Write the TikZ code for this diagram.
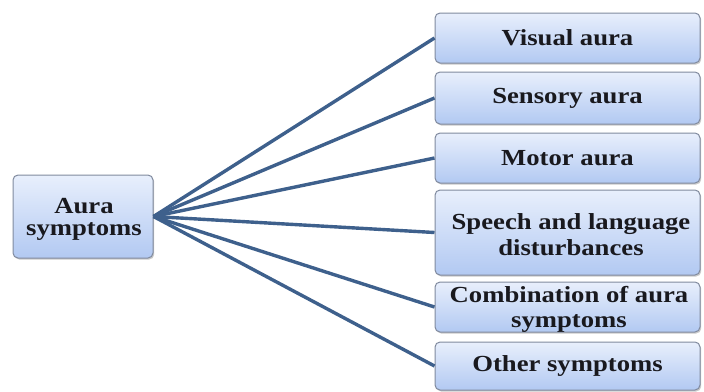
\documentclass[tikz,border=0pt]{standalone}
\usepackage{fontspec}
\setmainfont{Liberation Serif}
\newfontfamily\boxfont[FakeStretch=1.16]{Liberation Serif}
\usetikzlibrary{shadows}
\definecolor{linkc}{RGB}{62,96,140}
\definecolor{edgec}{RGB}{128,138,158}
\definecolor{topc}{RGB}{232,239,252}
\definecolor{botc}{RGB}{178,201,242}
\definecolor{txtc}{RGB}{25,25,30}
\tikzset{
  box/.style={draw=edgec, line width=1pt, rounded corners=5pt,
    top color=topc, bottom color=botc, inner sep=0pt,
    align=center, text=txtc,
    font=\boxfont\bfseries\fontsize{23}{23}\selectfont,
    drop shadow={shadow xshift=1.2pt, shadow yshift=-1.5pt, opacity=0.35, fill=black!60}},
  boxtext/.style={inner sep=0pt, align=center, text=txtc,
    font=\boxfont\bfseries\fontsize{23}{23}\selectfont},
  link/.style={draw=linkc, line width=3.4pt}
}
\begin{document}
\begin{tikzpicture}[x=1pt,y=-1pt]
\useasboundingbox (0,0) rectangle (704,391);
\node[box, minimum width=140pt, minimum height=83pt] (root) at (83,216.5) {};
\node[boxtext] (roott) at (84,219.5) {Aura\\[-1pt]symptoms};
\node[box, minimum width=265pt, minimum height=50pt] (b1) at (567.5,38) {Visual aura};
\node[box, minimum width=265pt, minimum height=52pt] (b2) at (567.5,98) {Sensory aura};
\node[box, minimum width=265pt, minimum height=50pt] (b3) at (567.5,158) {Motor aura};
\node[box, minimum width=265pt, minimum height=85pt] (b4) at (567.5,232.5) {};
\node[boxtext] (b4t) at (571,235) {Speech and language\\[3pt]disturbances};
\node[box, minimum width=265pt, minimum height=50pt] (b5) at (567.5,307) {};
\node[boxtext] (b5t) at (569,309.5) {Combination of aura\\[2pt]symptoms};
\node[box, minimum width=265pt, minimum height=48pt] (b6) at (567.5,366) {Other symptoms};
\foreach \b in {b1,b2,b3,b4,b5,b6}
  \draw[link] (root.east) -- (\b.west);
\end{tikzpicture}
\end{document}
